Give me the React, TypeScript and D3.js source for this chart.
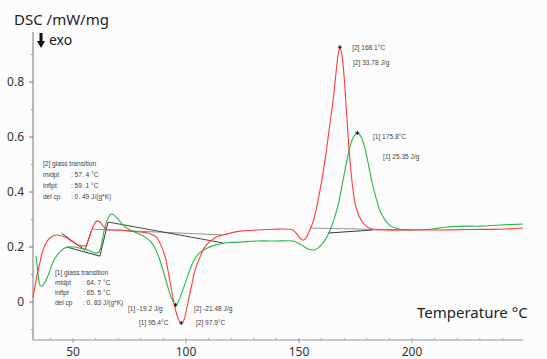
import React from 'react';
import * as d3 from 'd3';

// sample [2] (red) — temperature °C / DSC mW/mg
const redT = [32.3, 34.1, 35.4, 36.7, 38.9, 41.1, 42.9, 45.1, 47.3, 50.0, 52.2, 54.4, 55.8, 57.1, 58.4, 59.7, 60.6, 61.9, 63.3, 65.0, 67.3, 70.8, 75.2, 79.6, 83.2, 85.4, 87.2, 88.9, 90.7, 92.0, 93.4, 94.7, 96.0, 97.1, 97.9, 99.1, 100.0, 101.3, 102.7, 104.0, 105.8, 108.0, 110.2, 113.3, 117.7, 123.9, 131.4, 139.4, 145.1, 147.3, 149.1, 150.4, 151.8, 153.1, 154.4, 156.2, 158.0, 159.7, 161.5, 163.3, 165.1, 166.4, 167.3, 168.1, 169.0, 169.9, 170.8, 171.7, 172.6, 173.9, 175.2, 177.0, 179.2, 182.3, 188.1, 199.1, 212.4, 225.7, 238.9, 249.1];
const redV = [0.015, 0.098, 0.145, 0.189, 0.225, 0.240, 0.244, 0.240, 0.233, 0.218, 0.207, 0.204, 0.207, 0.233, 0.265, 0.287, 0.295, 0.291, 0.276, 0.265, 0.262, 0.262, 0.258, 0.255, 0.251, 0.244, 0.233, 0.207, 0.167, 0.116, 0.051, -0.004, -0.047, -0.070, -0.076, -0.065, -0.036, 0.015, 0.069, 0.116, 0.156, 0.196, 0.218, 0.236, 0.247, 0.258, 0.262, 0.265, 0.265, 0.262, 0.247, 0.233, 0.225, 0.233, 0.255, 0.291, 0.353, 0.425, 0.516, 0.625, 0.735, 0.836, 0.898, 0.927, 0.898, 0.825, 0.716, 0.607, 0.509, 0.407, 0.345, 0.305, 0.280, 0.265, 0.262, 0.262, 0.262, 0.264, 0.265, 0.269];

// sample [1] (green)
const greenT = [33.6, 34.5, 35.4, 36.3, 37.6, 39.4, 41.1, 43.4, 45.6, 47.8, 50.4, 53.1, 56.6, 60.2, 61.5, 62.4, 63.3, 64.2, 65.5, 66.8, 68.1, 69.9, 72.1, 75.2, 78.3, 81.9, 84.1, 86.3, 88.1, 89.8, 91.6, 93.4, 95.4, 96.5, 98.7, 100.9, 103.1, 105.8, 109.3, 112.8, 117.3, 123.9, 131.4, 139.4, 147.3, 149.6, 151.8, 154.0, 156.2, 158.4, 160.6, 162.8, 165.1, 167.3, 169.5, 171.2, 173.0, 174.4, 175.8, 177.0, 178.8, 180.6, 182.3, 184.1, 185.9, 188.1, 190.7, 194.7, 200.4, 208.0, 215.5, 223.5, 230.1, 239.0, 249.1];
const greenV = [0.167, 0.109, 0.062, 0.058, 0.073, 0.105, 0.145, 0.175, 0.193, 0.200, 0.200, 0.196, 0.189, 0.178, 0.182, 0.204, 0.240, 0.276, 0.305, 0.320, 0.316, 0.302, 0.280, 0.262, 0.251, 0.236, 0.222, 0.196, 0.160, 0.116, 0.065, 0.018, -0.011, 0.000, 0.047, 0.098, 0.145, 0.178, 0.196, 0.207, 0.215, 0.218, 0.222, 0.222, 0.222, 0.215, 0.204, 0.193, 0.189, 0.196, 0.215, 0.244, 0.291, 0.353, 0.444, 0.516, 0.578, 0.604, 0.615, 0.607, 0.571, 0.505, 0.436, 0.378, 0.331, 0.298, 0.276, 0.265, 0.262, 0.265, 0.273, 0.276, 0.276, 0.280, 0.284];

// evaluation baselines / tangents [x1, y1, x2, y2, colour]
const baselines: [number, number, number, number, string][] = [
  [45.0, 0.250, 55.3, 0.189, '#222'],
  [55.3, 0.189, 58.4, 0.265, '#222'],
  [58.4, 0.265, 116.4, 0.244, '#888'],
  [47.3, 0.200, 61.9, 0.167, '#222'],
  [61.9, 0.167, 65.5, 0.291, '#222'],
  [65.5, 0.291, 116.4, 0.215, '#333'],
  [154.9, 0.269, 200.4, 0.262, '#888'],
  [162.8, 0.251, 182.7, 0.262, '#222'],
];

const peakMarks = [[168.1, 0.927], [175.8, 0.615], [97.9, -0.076], [95.4, -0.011]];

const xMajor = [50, 100, 150, 200];
const xMinor = d3.range(40, 250, 10);
const yMajor = [0, 0.2, 0.4, 0.6, 0.8];
const yMinor = [-0.1, 0.1, 0.3, 0.5, 0.7, 0.9];

// peak annotations: [temperature, value, text]
const notes: [number, number, string][] = [
  [173.5, 0.916, '[2] 168.1°C'],
  [173.9, 0.862, '[2] 33.78 J/g'],
  [182.7, 0.593, '[1] 175.8°C'],
  [187.2, 0.520, '[1] 25.35 J/g'],
  [74.3, -0.033, '[1] -19.2 J/g'],
  [103.5, -0.033, '[2] -21.48 J/g'],
  [79.2, -0.084, '[1] 95.4°C'],
  [104.4, -0.084, '[2] 97.9°C'],
];

// glass transition blocks: [temperature, value of title, line step, title, labels, values]
const tgBlocks: [number, number, number, string, string[], string[]][] = [
  [36.7, 0.495, 0.04, '[2] glass transition', ['midpt', 'inflpt', 'del cp'], [':  57. 4 °C', ':  59. 1 °C', ':    0. 49 J/(g*K)']],
  [42.0, 0.098, 0.036, '[1] glass transition', ['midpt', 'inflpt', 'del cp'], [':  64. 7 °C', ':  65. 5 °C', ':    0. 83 J/(g*K)']],
];

export default function App() {
  const width = 547, height = 359;
  const x = d3.scaleLinear().domain([32.3, 249.1]).range([33, 523]);
  const y = d3.scaleLinear().domain([-0.138, 0.982]).range([340, 32]);
  const line = d3.line<[number, number]>()
    .x(d => x(d[0])).y(d => y(d[1]))
    .curve(d3.curveCatmullRom.alpha(0.5));
  const red = line(redT.map((t, i) => [t, redV[i]]) as [number, number][]) || '';
  const green = line(greenT.map((t, i) => [t, greenV[i]]) as [number, number][]) || '';
  const noteFont = "'Liberation Sans', Arial, sans-serif";
  const mainFont = "'Noto Sans', 'Open Sans', sans-serif";

  return (
    <svg width={width} height={height} style={{ position: 'absolute', left: 0, top: 0, background: '#fcfcfc' }}>
      <rect width={width} height={height} fill="#fcfcfc" />
      {/* axes */}
      <line x1={33} x2={33} y1={32} y2={340} stroke="#777" />
      <line x1={33} x2={523} y1={340} y2={340} stroke="#999" />
      {yMajor.map(v => (
        <g key={'ym' + v}>
          <line x1={29} x2={33} y1={y(v)} y2={y(v)} stroke="#777" />
          <text x={24} y={y(v) + 4} textAnchor="end" fontSize={12} fill="#333" fontFamily={mainFont}>{v === 0 ? '0' : v.toFixed(1)}</text>
        </g>
      ))}
      {yMinor.map(v => <line key={'yn' + v} x1={31} x2={33} y1={y(v)} y2={y(v)} stroke="#999" />)}
      {xMinor.map(t => <line key={'xn' + t} x1={x(t)} x2={x(t)} y1={338} y2={340} stroke="#aaa" />)}
      {xMajor.map(t => (
        <g key={'xm' + t}>
          <line x1={x(t)} x2={x(t)} y1={340} y2={343} stroke="#999" />
          <text x={x(t)} y={356} textAnchor="middle" fontSize={12} fill="#333" fontFamily={mainFont}>{t}</text>
        </g>
      ))}
      <text x={14} y={25} fontSize={15} fill="#222" fontFamily={mainFont}>DSC /mW/mg</text>
      <path d="M39.5,33 h3 v8 h2.5 l-4,7 l-4,-7 h2.5 z" fill="#111" />
      <text x={49} y={45} fontSize={14} fill="#222" fontFamily={mainFont}>exo</text>
      <text x={417} y={318} fontSize={15} fill="#222" fontFamily={mainFont}>Temperature °C</text>

      {/* baselines */}
      {baselines.map((b, i) => (
        <line key={'b' + i} x1={x(b[0])} y1={y(b[1])} x2={x(b[2])} y2={y(b[3])} stroke={b[4]} strokeWidth={0.9} />
      ))}
      {/* curves */}
      <path d={green} fill="none" stroke="#2fb54a" strokeWidth={1.1} />
      <path d={red} fill="none" stroke="#ff3c3c" strokeWidth={1.1} />

      {peakMarks.map((p, i) => (
        <g key={'p' + i} stroke="#111" strokeWidth={1}>
          <line x1={x(p[0]) - 2} x2={x(p[0]) + 2} y1={y(p[1])} y2={y(p[1])} />
          <line x1={x(p[0])} x2={x(p[0])} y1={y(p[1]) - 2} y2={y(p[1]) + 2} />
        </g>
      ))}

      {/* annotations */}
      {notes.map((n, i) => (
        <text key={'n' + i} x={x(n[0])} y={y(n[1])} fontSize={6.6} fill="#444" fontFamily={noteFont}>{n[2]}</text>
      ))}
      {tgBlocks.map((b, i) => (
        <g key={'tg' + i} fontSize={6.6} fill="#444" fontFamily={noteFont}>
          <text x={x(b[0])} y={y(b[1])}>{b[3]}</text>
          {b[4].map((lab, j) => (
            <g key={j}>
              <text x={x(b[0])} y={y(b[1] - (j + 1) * b[2])}>{lab}</text>
              <text x={x(b[0]) + 28} y={y(b[1] - (j + 1) * b[2])}>{b[5][j]}</text>
            </g>
          ))}
        </g>
      ))}
    </svg>
  );
}
